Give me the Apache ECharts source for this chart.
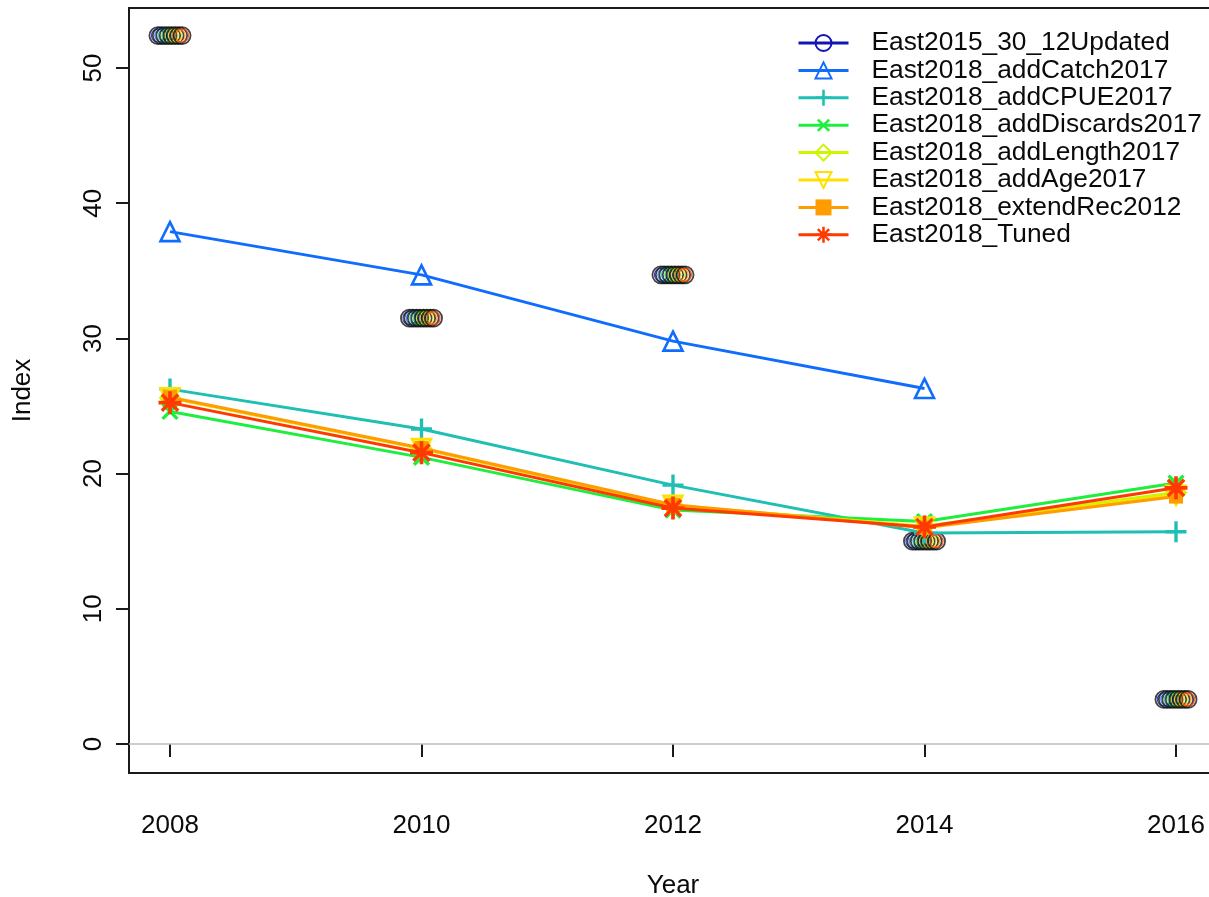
<!DOCTYPE html>
<html>
<head>
<meta charset="utf-8">
<script src="https://cdn.jsdelivr.net/npm/echarts@6/dist/echarts.min.js"></script>
<style>
  html, body { margin: 0; padding: 0; background: #fff; overflow: hidden; }
  #chart { width: 1230px; height: 897px; }
</style>
</head>
<body>
<div id="chart"></div>
<script>
// Model runs compared in the index plot
const modelNames = [
  'East2015_30_12Updated',
  'East2018_addCatch2017',
  'East2018_addCPUE2017',
  'East2018_addDiscards2017',
  'East2018_addLength2017',
  'East2018_addAge2017',
  'East2018_extendRec2012',
  'East2018_Tuned'
];
const modelColors = ['#1414b4', '#0f6cff', '#1fbfb4', '#1eee3c', '#ccf500', '#ffe000', '#ff9c00', '#ff3a00'];

// Survey years and observed index (same observations in every run)
const years = [2008, 2010, 2012, 2014, 2016];
const observedIndex = [52.4, 31.5, 34.7, 15.0, 3.3];

// Expected index per model (null = not estimated)
const expEast2015 = [];
const expAddCatch = [37.9, 34.7, 29.8, 26.3, null];
const expAddCPUE = [26.25, 23.3, 19.15, 15.6, 15.7];
const expAddDiscards = [24.6, 21.2, 17.3, 16.45, 19.3];
const expAddLength = [25.6, 21.85, 17.65, 16.1, 18.6];
const expAddAge = [25.6, 21.85, 17.65, 16.05, 18.4];
const expExtendRec = [25.65, 21.9, 17.7, 16.0, 18.3];
const expTuned = [25.25, 21.55, 17.45, 16.05, 18.95];
const expectedSets = [expEast2015, expAddCatch, expAddCPUE, expAddDiscards, expAddLength, expAddAge, expExtendRec, expTuned];

// Horizontal offset (years) for each run's observed points
const obsOffsets = [-0.096, -0.069, -0.041, -0.014, 0.014, 0.041, 0.069, 0.096];

// Tick labels
const xTicks = [2008, 2010, 2012, 2014, 2016];
const yTicks = [0, 10, 20, 30, 40, 50];

const FONT = 'Liberation Sans, Arial, sans-serif';
const TEXT = '#0a0a0a';

// Marker shapes (R-style plotting symbols)
const plusPath = 'path://M8.4,0H11.6V20H8.4Z M0,8.4H20V11.6H0Z';
const starPath = 'path://M8.4,0H11.6V20H8.4Z M0,8.4H20V11.6H0Z M3.99,1.87L18.13,16.01L16.01,18.13L1.87,3.99Z M16.01,1.87L18.13,3.99L3.99,18.13L1.87,16.01Z';
const markerDefs = [
  { symbol: 'circle', size: 14, hollow: true, rotate: 0 },
  { symbol: 'triangle', size: 19, hollow: true, rotate: 0 },
  { symbol: plusPath, size: 21, hollow: false, rotate: 0 },
  { symbol: plusPath, size: 21, hollow: false, rotate: 45 },
  { symbol: 'diamond', size: 19, hollow: true, rotate: 0 },
  { symbol: 'triangle', size: 19, hollow: true, rotate: 180 },
  { symbol: 'rect', size: 14, hollow: false, rotate: 0 },
  { symbol: starPath, size: 23, hollow: false, rotate: 0 }
];

const series = [];

// Observed points: dark outer ring plus a thin ring in the run's colour
modelNames.forEach((name, i) => {
  const pts = years.map((y, k) => [y + obsOffsets[i], observedIndex[k]]);
  series.push({
    name: 'obs-outer-' + i, type: 'scatter', data: pts, symbol: 'circle', symbolSize: 17,
    itemStyle: { color: 'rgba(0,0,0,0)', borderColor: '#151515', borderWidth: 1.8 },
    silent: true, z: 3
  });
  series.push({
    name: 'obs-inner-' + i, type: 'scatter', data: pts, symbol: 'circle', symbolSize: 13,
    itemStyle: { color: 'rgba(0,0,0,0)', borderColor: modelColors[i], borderWidth: 1.2, opacity: 0.8 },
    silent: true, z: 3
  });
});

// Expected index lines
modelNames.forEach((name, i) => {
  const m = markerDefs[i];
  const c = modelColors[i];
  const data = [];
  expectedSets[i].forEach((v, k) => { if (v !== null && v !== undefined) data.push([years[k], v]); });
  const s = {
    name: name, type: 'line', data: data,
    symbol: m.symbol, symbolSize: m.size, symbolRotate: m.rotate, showAllSymbol: true,
    lineStyle: { color: c, width: 3 },
    itemStyle: m.hollow
      ? { color: 'rgba(255,255,255,0)', borderColor: c, borderWidth: 2.6 }
      : { color: c, borderWidth: 0 },
    emphasis: { disabled: true },
    z: 4 + i
  };
  if (i === 0) {
    s.markLine = {
      silent: true, symbol: 'none', label: { show: false },
      lineStyle: { color: '#bdbdbd', width: 1.5, type: 'solid' },
      data: [{ yAxis: 0 }], z: 1
    };
  }
  series.push(s);
});

const chart = echarts.init(document.getElementById('chart'), null, { renderer: 'canvas' });
chart.setOption({
  animation: false,
  backgroundColor: '#ffffff',
  textStyle: { fontFamily: FONT },
  grid: {
    left: 129, top: 8, width: 1088, height: 765,
    containLabel: false, outerBoundsMode: 'none',
    show: true, borderColor: '#1a1a1a', borderWidth: 2, backgroundColor: 'transparent'
  },
  legend: {
    data: modelNames,
    orient: 'vertical',
    left: 797, top: 30,
    padding: 0,
    itemWidth: 50, itemHeight: 20, itemGap: 1.4,
    lineStyle: { width: 3 },
    textStyle: { fontFamily: FONT, fontSize: 26.3, color: TEXT, lineHeight: 26, padding: [0, 0, 0, 18] },
    selectedMode: false
  },
  xAxis: {
    type: 'value', min: 2007.674, max: 2016.326,
    name: 'Year', nameLocation: 'middle', nameGap: 100,
    nameTextStyle: { fontFamily: FONT, fontSize: 26, color: TEXT },
    axisLine: { show: false },
    axisTick: { show: true, customValues: xTicks, length: 13, lineStyle: { color: '#1a1a1a', width: 2 } },
    axisLabel: {
      customValues: xTicks, margin: 40, fontFamily: FONT, fontSize: 26, color: TEXT,
      formatter: (v) => String(Math.round(v))
    },
    splitLine: { show: false }
  },
  yAxis: {
    type: 'value', min: -2.145, max: 54.44,
    name: 'Index', nameLocation: 'middle', nameGap: 93, nameRotate: 90,
    nameTextStyle: { fontFamily: FONT, fontSize: 26, color: TEXT },
    axisLine: { show: false },
    axisTick: { show: true, customValues: yTicks, length: 13, lineStyle: { color: '#1a1a1a', width: 2 } },
    axisLabel: {
      customValues: yTicks, rotate: 90, margin: 22, fontFamily: FONT, fontSize: 26, color: TEXT,
      formatter: (v) => String(Math.round(v))
    },
    splitLine: { show: false }
  },
  series: series
});
</script>
</body>
</html>
